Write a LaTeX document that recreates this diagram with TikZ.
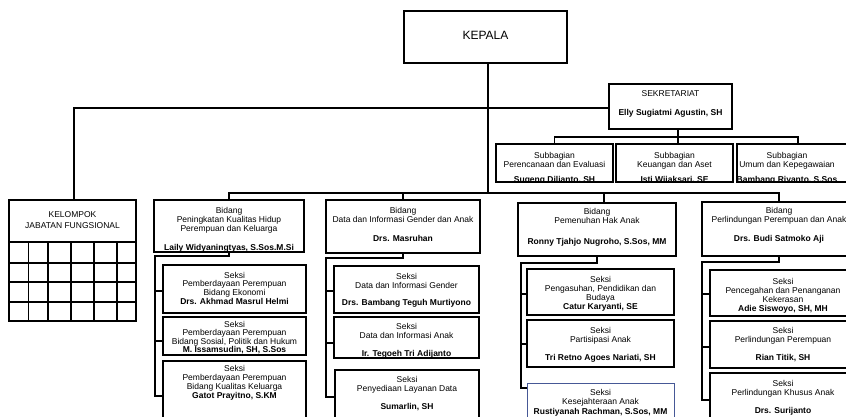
\documentclass[tikz,border=0pt]{standalone}
\usepackage{fontspec}
\setmainfont{Liberation Sans}
\usetikzlibrary{fit}
\definecolor{boxblue}{RGB}{70,88,150}
\begin{document}
\begin{tikzpicture}[x=1pt,y=-1pt,
  box/.style={draw=black, line width=1.2pt, inner sep=0pt, fit={#1}},
  txt/.style={font=\fontsize{8.5}{9}\selectfont, align=center, inner sep=0pt, anchor=north},
  conn/.style={draw=black, line width=1.2pt},
  gridline/.style={draw=black, line width=1.1pt}]
\useasboundingbox (0,0) rectangle (846,417);
\clip (0,0) rectangle (846,417);
\fill[white] (0,0) rectangle (846,417);

% ---------- boxes ----------
\node[box={(404,11) (567,63)}] (kepala) {};
\node[box={(609,84) (732,129)}] (sek) {};
\node[box={(496,144) (613,182)}] (sub1) {};
\node[box={(616,144) (733,182)}] (sub2) {};
\node[box={(737,144) (859,182)}] (sub3) {};
\node[box={(9,200) (136,321)}] (kel) {};
\node[box={(154,200) (304,252)}] (bid1) {};
\node[box={(326,200) (480,253)}] (bid2) {};
\node[box={(518,203) (676,256)}] (bid3) {};
\node[box={(702,202) (856,256)}] (bid4) {};
\node[box={(163,265) (306,313)}] (s11) {};
\node[box={(163,317) (306,355)}] (s12) {};
\node[box={(163,361) (306,425)}] (s13) {};
\node[box={(334,266) (479,313)}] (s21) {};
\node[box={(334,317) (479,358)}] (s22) {};
\node[box={(335,370) (479,425)}] (s23) {};
\node[box={(527,269) (674,315)}] (s31) {};
\node[box={(527,320) (674,367)}] (s32) {};
\node[box={(527,383) (674,425)}, draw=boxblue, line width=0.8pt] (s33) {};
\node[box={(710,270) (855,316)}] (s41) {};
\node[box={(710,321) (855,368)}] (s42) {};
\node[box={(710,373) (855,425)}] (s43) {};

% ---------- kelompok grid ----------
\draw[gridline] (9,242) -- (136,242);
\foreach \yy in {263,282,302} \draw[gridline] (9,\yy) -- (136,\yy);
\foreach \xx in {28.7,48,71,94,117} \draw[gridline] (\xx,242) -- (\xx,321);

% ---------- texts ----------
\node[font=\fontsize{12}{14}\selectfont, inner sep=0pt] (tkep) at (485.5,35) {KEPALA};
\node[txt] (tsek) at (670.5,90) {SEKRETARIAT\\[10pt]\textbf{Elly Sugiatmi Agustin, SH}};
\begin{scope}
\clip (496,144) rectangle (613,182);
\node[txt] (tsub1) at (554.5,151.7) {Subbagian\\Perencanaan dan Evaluasi\\[6pt]\textbf{Sugeng Dilianto, SH}};
\end{scope}
\begin{scope}
\clip (616,144) rectangle (733,182);
\node[txt] (tsub2) at (674.5,151.7) {Subbagian\\Keuangan dan Aset\\[6pt]\textbf{Isti Wijaksari, SE}};
\end{scope}
\begin{scope}
\clip (737,144) rectangle (859,182);
\node[txt] (tsub3) at (787,151.7) {Subbagian\\Umum dan Kepegawaian\\[6pt]\textbf{Bambang Riyanto, S.Sos}};
\end{scope}
\node[txt] (tkel) at (72.5,211.7) {KELOMPOK\\[2pt]JABATAN FUNGSIONAL};
\node[txt] (tb1) at (229,206.7) {Bidang\\Peningkatan Kualitas Hidup\\Perempuan dan Keluarga\\[10pt]\textbf{Laily Widyaningtyas, S.Sos.M.Si}};
\node[txt] (tb2) at (403,206.7) {Bidang\\Data dan Informasi Gender dan Anak\\[10pt]\textbf{Drs. Masruhan}};
\node[txt] (tb3) at (597,208.4) {Bidang\\Pemenuhan Hak Anak\\[12pt]\textbf{Ronny Tjahjo Nugroho, S.Sos, MM}};
\node[txt] (tb4) at (779,206.7) {Bidang\\Perlindungan Perempuan dan Anak\\[10pt]\textbf{Drs. Budi Satmoko Aji}};
\node[txt, font=\fontsize{8.5}{8.7}\selectfont] (ts11) at (234.5,271.7) {Seksi\\Pemberdayaan Perempuan\\Bidang Ekonomi\\\textbf{Drs. Akhmad Masrul Helmi}};
\node[txt, font=\fontsize{8.5}{8.4}\selectfont] (ts12) at (234.5,321) {Seksi\\Pemberdayaan Perempuan\\Bidang Sosial, Politik dan Hukum\\\textbf{M. Issamsudin, SH, S.Sos}};
\node[txt] (ts13) at (234.5,364.7) {Seksi\\Pemberdayaan Perempuan\\Bidang Kualitas Keluarga\\\textbf{Gatot Prayitno, S.KM}};
\node[txt] (ts21) at (406.5,273.4) {Seksi\\Data dan Informasi Gender\\[8pt]\textbf{Drs. Bambang Teguh Murtiyono}};
\node[txt] (ts22) at (406.5,323.4) {Seksi\\Data dan Informasi Anak\\[9pt]\textbf{Ir. Tegoeh Tri Adijanto}};
\node[txt] (ts23) at (407,375.7) {Seksi\\Penyediaan Layanan Data\\[9pt]\textbf{Sumarlin, SH}};
\node[txt] (ts31) at (600.5,275.7) {Seksi\\Pengasuhan, Pendidikan dan\\Budaya\\\textbf{Catur Karyanti, SE}};
\node[txt] (ts32) at (600.5,326.7) {Seksi\\Partisipasi Anak\\[9pt]\textbf{Tri Retno Agoes Nariati, SH}};
\node[txt, font=\fontsize{8.5}{8.5}\selectfont] (ts33) at (600.5,389.5) {Seksi\\Kesejahteraan Anak\\[1.5pt]\textbf{Rustiyanah Rachman, S.Sos, MM}};
\begin{scope}
\clip (710,270) rectangle (855,316);
\node[txt] (ts41) at (783,277.7) {Seksi\\Pencegahan dan Penanganan\\Kekerasan\\\textbf{Adie Siswoyo, SH, MH}};
\end{scope}
\node[txt] (ts42) at (783,326.7) {Seksi\\Perlindungan Perempuan\\[9pt]\textbf{Rian Titik, SH}};
\node[txt] (ts43) at (783,379.7) {Seksi\\Perlindungan Khusus Anak\\[9pt]\textbf{Drs. Surijanto}};

% ---------- connectors ----------
\coordinate (bus) at (0,193);
\coordinate (kx) at (488,193);
\coordinate (kl) at (74,108);
\coordinate (sbus) at (678,137);
\coordinate (d3) at (604,193);
\draw[conn] (kl |- kel.north) -- (kl) -- (kl -| sek.west);
\draw[conn] (kx |- kepala.south) -- (kx);
\draw[conn] (bid1.north) -- (bid1.north |- bus) -- (bid4.north |- bus) -- (bid4.north);
\draw[conn] (bid2.north) -- (bid2.north |- bus);
\draw[conn] (d3) -- (d3 |- bid3.north);
\draw[conn] (sbus |- sek.south) -- (sbus |- sub2.north);
\draw[conn] (sub1.north) -- (sub1.north |- sbus) -- (sub3.north |- sbus) -- (sub3.north);

% column 1
\coordinate (v1) at (155,256);
\coordinate (b11) at (0,291);
\coordinate (b12) at (0,341);
\coordinate (b13) at (0,396);
\draw[conn] (bid1.south) -- (bid1.south |- v1) -- (v1) -- (v1 |- b13) -- (s13.west |- b13);
\draw[conn] (s11.west |- b11) -- (v1 |- b11);
\draw[conn] (s12.west |- b12) -- (v1 |- b12);

% column 2
\coordinate (v2) at (326,258);
\coordinate (b21) at (0,291);
\coordinate (b22) at (0,343);
\coordinate (b23) at (0,397);
\draw[conn] (bid2.south) -- (bid2.south |- v2) -- (v2) -- (v2 |- b23) -- (s23.west |- b23);
\draw[conn] (s21.west |- b21) -- (v2 |- b21);
\draw[conn] (s22.west |- b22) -- (v2 |- b22);

% column 3
\coordinate (v3) at (521,263);
\coordinate (b31) at (0,294);
\coordinate (b32) at (0,344);
\coordinate (b33) at (0,388);
\draw[conn] (bid3.south) -- (bid3.south |- v3) -- (v3) -- (v3 |- b33) -- (s33.west |- b33);
\draw[conn] (s31.west |- b31) -- (v3 |- b31);
\draw[conn] (s32.west |- b32) -- (v3 |- b32);

% column 4
\coordinate (v4) at (702,262);
\coordinate (b41) at (0,294);
\coordinate (b42) at (0,347);
\coordinate (b43) at (0,400);
\draw[conn] (bid4.south) -- (bid4.south |- v4) -- (v4) -- (v4 |- b43) -- (s43.west |- b43);
\draw[conn] (s41.west |- b41) -- (v4 |- b41);
\draw[conn] (s42.west |- b42) -- (v4 |- b42);
\end{tikzpicture}
\end{document}
